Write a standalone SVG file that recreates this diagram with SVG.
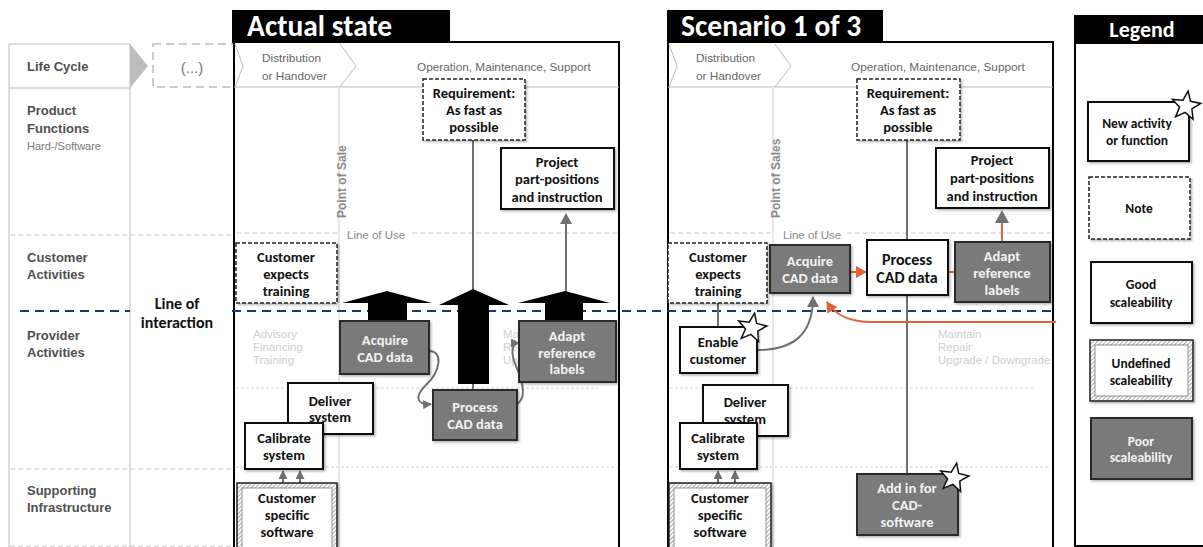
<svg xmlns="http://www.w3.org/2000/svg" width="1203" height="547" viewBox="0 0 1203 547">
  <style>
    .row { font-family: "Liberation Sans", Arial, sans-serif; font-weight: bold; font-size: 13px; fill: #505050; }
    .sub { font-family: "Liberation Sans", Arial, sans-serif; font-size: 11px; fill: #7a7a7a; }
    .phase { font-family: "Liberation Sans", Arial, sans-serif; font-size: 11.8px; fill: #666; }
    .ghost { font-family: "Liberation Sans", Arial, sans-serif; font-size: 11.5px; fill: #cfcfcf; }
    .pos { font-family: "Liberation Sans", Arial, sans-serif; font-weight: bold; font-size: 12px; fill: #8a8a8a; }
    .use { font-family: "Liberation Sans", Arial, sans-serif; font-size: 11.5px; fill: #888; }
    .t { font-family: Carlito, Lato, "Liberation Sans", sans-serif; font-weight: bold; font-size: 14.5px; fill: #111; text-anchor: middle; }
    .tw { font-family: Carlito, Lato, "Liberation Sans", sans-serif; font-weight: bold; font-size: 14.5px; fill: #f2f2f2; text-anchor: middle; }
    .lg { font-size: 13.5px; }
    .big { font-size: 16px; }
    .title { font-family: Carlito, Lato, "Liberation Sans", sans-serif; font-weight: bold; font-size: 29.5px; fill: #fff; }
    .title.small { font-size: 22px; text-anchor: middle; }
    .good { fill: #fff; stroke: #111; stroke-width: 2; filter: url(#sh); }
    .poor { fill: #7a7a7a; stroke: #2a2a2a; stroke-width: 2; filter: url(#sh); }
    .note { fill: #fff; stroke: #222; stroke-width: 1.5; stroke-dasharray: 4 2; filter: url(#sh); }
    .hatch-o { fill: url(#hatch); stroke: #222; stroke-width: 1.5; filter: url(#sh); }
    .hatch-i { fill: #fff; stroke: #777; stroke-width: 0.8; }
    .panel { fill: #fff; stroke: #000; stroke-width: 2; }
    .grid { stroke: #bdbdbd; stroke-width: 1; fill: none; }
    .dash { stroke: #c8c8c8; stroke-width: 1; stroke-dasharray: 5 3; fill: none; }
    .dot { stroke: #d4d4d4; stroke-width: 1; stroke-dasharray: 3 2; fill: none; }
    .loi { stroke: #1f3a5c; stroke-width: 2; stroke-dasharray: 9 6; fill: none; }
    .con { stroke: #707070; stroke-width: 2; fill: none; }
    .org { stroke: #e8603c; stroke-width: 2; fill: none; }
    .star { fill: #fff; stroke: #111; stroke-width: 1.5; stroke-linejoin: miter; }
  </style>
  <defs>
    <filter id="sh" x="-10%" y="-10%" width="130%" height="130%">
      <feDropShadow dx="1.5" dy="1.5" stdDeviation="1" flood-color="#000" flood-opacity="0.3"/>
    </filter>
    <pattern id="hatch" width="3" height="3" patternUnits="userSpaceOnUse" patternTransform="rotate(45)">
      <rect width="3" height="3" fill="#fff"/>
      <line x1="0" y1="0" x2="0" y2="3" stroke="#8a8a8a" stroke-width="1.4"/>
    </pattern>
    <marker id="ag" markerUnits="userSpaceOnUse" markerWidth="12" markerHeight="12" refX="10" refY="6" orient="auto">
      <path d="M0,0 L11,6 L0,12 z" fill="#707070"/>
    </marker>
    <marker id="ag-s" markerUnits="userSpaceOnUse" markerWidth="9" markerHeight="9" refX="8" refY="4.5" orient="auto">
      <path d="M0,0 L9,4.5 L0,9 z" fill="#707070"/>
    </marker>
    <marker id="ao" markerUnits="userSpaceOnUse" markerWidth="12" markerHeight="12" refX="10" refY="6" orient="auto">
      <path d="M0,0 L11,6 L0,12 z" fill="#e8603c"/>
    </marker>
    <polygon id="star" points="0,-15 3.8,-5.3 14.3,-4.6 6.2,2 8.8,12.1 0,6.5 -8.8,12.1 -6.2,2 -14.3,-4.6 -3.8,-5.3"/>
  </defs>

  <rect width="1203" height="547" fill="#fff"/>

  <!-- lane headings on the left -->
  <g id="lanes">
    <line class="grid" x1="9" y1="44" x2="130" y2="44"/>
    <line class="grid" x1="9" y1="88" x2="130" y2="88"/>
    <line class="grid" x1="9" y1="44" x2="9" y2="547"/>
    <line class="grid" x1="130" y1="44" x2="130" y2="547"/>
    <polygon points="130,44 148,66 130,88" fill="#bdbdbd"/>
    <rect x="153" y="44" width="82" height="43" fill="none" stroke="#bdbdbd" stroke-width="1.5" stroke-dasharray="8 5"/>
    <text x="192" y="73" text-anchor="middle" font-family="Liberation Sans, Arial, sans-serif" font-size="15" fill="#777">(...)</text>
    <line class="dash" x1="10" y1="235" x2="234" y2="235" stroke-dasharray="9 3 2 3"/>
    <line class="dash" x1="10" y1="469" x2="234" y2="469" stroke-dasharray="9 3"/>
    <line class="dash" x1="10" y1="546" x2="234" y2="546" stroke-dasharray="9 3"/>
    <text class="row" x="27" y="71">Life Cycle</text>
    <text class="row" x="27" y="115">Product</text>
    <text class="row" x="27" y="133">Functions</text>
    <text class="sub" x="27" y="150">Hard-/Software</text>
    <text class="row" x="27" y="262">Customer</text>
    <text class="row" x="27" y="279">Activities</text>
    <text class="row" x="27" y="340">Provider</text>
    <text class="row" x="27" y="357">Activities</text>
    <text class="row" x="27" y="495">Supporting</text>
    <text class="row" x="27" y="512">Infrastructure</text>
    <text class="t big" x="177" y="309">Line of</text>
    <text class="t big" x="177" y="328">interaction</text>
  </g>

  <!-- panel: actual state -->
  <g id="panel-actual">
    <rect x="232" y="10" width="218" height="33" fill="#000"/>
    <text class="title" x="247" y="36">Actual state</text>
    <rect class="panel" x="234" y="42" width="385" height="510"/>
    <polyline class="grid" points="235,44 243,66 235,87"/>
    <polyline class="grid" points="340,44 356,66 340,87"/>
    <line class="grid" x1="234" y1="87" x2="619" y2="87"/>
    <text class="phase" x="262" y="62">Distribution</text>
    <text class="phase" x="262" y="80">or Handover</text>
    <text class="phase" x="417" y="71">Operation, Maintenance, Support</text>
    <line x1="339" y1="87" x2="339" y2="547" stroke="#e2e2e2" stroke-width="1.5"/>
    <text class="pos" transform="translate(346,218) rotate(-90)">Point of Sale</text>
    <line class="dash" x1="236" y1="233" x2="338" y2="233"/>
    <line class="dash" x1="412" y1="233" x2="617" y2="233"/>
    <text class="use" x="347" y="239">Line of Use</text>
    <line class="dot" x1="236" y1="388" x2="598" y2="388"/>
    <line class="dot" x1="236" y1="467" x2="617" y2="467"/>
    <text class="ghost" x="253" y="338">Advisory</text>
    <text class="ghost" x="253" y="351">Financing</text>
    <text class="ghost" x="253" y="364">Training</text>
    <!-- service list, mostly hidden by the label box -->
    <text class="ghost" x="503" y="338">Ma</text>
    <text class="ghost" x="503" y="351">Re</text>
    <text class="ghost" x="503" y="364">Up</text>
  </g>

  <!-- panel: scenario 1 -->
  <g id="panel-scenario">
    <rect x="667" y="10" width="216" height="33" fill="#000"/>
    <text class="title" x="681" y="36">Scenario 1 of 3</text>
    <rect class="panel" x="668" y="42" width="385" height="510"/>
    <polyline class="grid" points="669,44 677,66 669,87"/>
    <polyline class="grid" points="775,44 791,66 775,87"/>
    <line class="grid" x1="668" y1="87" x2="1053" y2="87"/>
    <text class="phase" x="696" y="62">Distribution</text>
    <text class="phase" x="696" y="80">or Handover</text>
    <text class="phase" x="851" y="71">Operation, Maintenance, Support</text>
    <line x1="773" y1="87" x2="773" y2="547" stroke="#e2e2e2" stroke-width="1.5"/>
    <text class="pos" transform="translate(780,218) rotate(-90)">Point of Sales</text>
    <line class="dash" x1="670" y1="233" x2="773" y2="233"/>
    <line class="dash" x1="847" y1="233" x2="1051" y2="233"/>
    <text class="use" x="783" y="239">Line of Use</text>
    <line class="dot" x1="670" y1="388" x2="1033" y2="388"/>
    <line class="dot" x1="670" y1="467" x2="1051" y2="467"/>
    <text class="ghost" x="938" y="338">Maintain</text>
    <text class="ghost" x="938" y="351">Repair</text>
    <text class="ghost" x="938" y="364">Upgrade / Downgrade</text>
  </g>

  <!-- legend -->
  <g id="legend">
    <rect x="1074" y="15" width="135" height="29" fill="#000"/>
    <text class="title small" x="1142" y="37">Legend</text>
    <rect x="1075" y="43" width="140" height="503" fill="#fff" stroke="#000" stroke-width="2"/>
    <g id="legend-new">
      <rect class="good" x="1088" y="102" width="101" height="59"/>
      <text class="t lg" x="1137" y="128">New activity</text>
      <text class="t lg" x="1137" y="145">or function</text>
      <use href="#star" class="star" transform="translate(1186,106) rotate(8)"/>
    </g>
    <g id="legend-note">
      <rect class="note" x="1089" y="177" width="101" height="62"/>
      <text class="t lg" x="1139" y="213">Note</text>
    </g>
    <g id="legend-good">
      <rect class="good" x="1091" y="262" width="101" height="61"/>
      <text class="t lg" x="1141" y="289">Good</text>
      <text class="t lg" x="1141" y="307">scaleability</text>
    </g>
    <g id="legend-undefined">
      <rect class="hatch-o" x="1090" y="340" width="103" height="61"/>
      <rect class="hatch-i" x="1095" y="345" width="93" height="51"/>
      <text class="t lg" x="1141" y="368">Undefined</text>
      <text class="t lg" x="1141" y="385">scaleability</text>
    </g>
    <g id="legend-poor">
      <rect class="poor" x="1091" y="418" width="101" height="61"/>
      <text class="tw lg" x="1141" y="446">Poor</text>
      <text class="tw lg" x="1141" y="462">scaleability</text>
    </g>
  </g>

  <!-- connectors -->
  <g id="connectors">
    <!-- line of interaction -->
    <line class="loi" x1="20" y1="311" x2="130" y2="311"/>
    <line class="loi" x1="232" y1="311" x2="1056" y2="311"/>

    <!-- actual state -->
    <line class="con" x1="473" y1="140" x2="473" y2="292"/>
    <line class="con" x1="473" y1="383" x2="473" y2="390"/>
    <line class="con" x1="566" y1="292" x2="566" y2="214" marker-end="url(#ag)"/>
    <polygon points="387,291 432,303 407,303 407,321 368,321 368,303 342,303" fill="#000"/>
    <polygon points="473,289 509,305 489,305 489,384 458,384 458,305 439,305" fill="#000"/>
    <polygon points="565,291 610,303 583,303 583,321 545,321 545,303 518,303" fill="#000"/>
    <path class="con" d="M429,351 C444,351 440,372 426,385 C413,398 418,405 431,404" marker-end="url(#ag-s)"/>
    <path class="con" d="M517,404 C527,398 523,382 516,366 C510,352 512,343 519,343" marker-end="url(#ag-s)"/>
    <line class="con" x1="283" y1="483" x2="283" y2="471" marker-end="url(#ag-s)"/>
    <line class="con" x1="300" y1="483" x2="300" y2="471" marker-end="url(#ag-s)"/>

    <!-- scenario -->
    <line class="con" x1="907" y1="140" x2="907" y2="474"/>
    <line class="org" x1="1002" y1="242" x2="1002" y2="222"/>
    <polygon points="1002,210 1009,223 995,223" fill="#707070"/>
    <line class="org" x1="850" y1="272" x2="866" y2="272" marker-end="url(#ao)"/>
    <line class="org" x1="948" y1="272" x2="955" y2="272"/>
    <path class="org" d="M1056,322 L872,322 C850,322 836,316 827,302" marker-end="url(#ao)"/>
    <line class="con" x1="718" y1="303" x2="718" y2="327"/>
    <path class="con" d="M757,350 C792,350 813,336 813,297" marker-end="url(#ag)"/>
    <line class="con" x1="718" y1="483" x2="718" y2="471" marker-end="url(#ag-s)"/>
    <line class="con" x1="735" y1="483" x2="735" y2="471" marker-end="url(#ag-s)"/>
  </g>

  <!-- nodes: actual state -->
  <g id="a-requirement">
    <rect class="note" x="423" y="79" width="102" height="61"/>
    <text class="t" x="474" y="98">Requirement:</text>
    <text class="t" x="474" y="115">As fast as</text>
    <text class="t" x="474" y="132">possible</text>
  </g>
  <g id="a-project">
    <rect class="good" x="501" y="148" width="113" height="61"/>
    <text class="t" x="557" y="167">Project</text>
    <text class="t" x="557" y="184">part-positions</text>
    <text class="t" x="557" y="202">and instruction</text>
  </g>
  <g id="a-expects">
    <rect class="note" x="236" y="243" width="101" height="60"/>
    <text class="t" x="286" y="262">Customer</text>
    <text class="t" x="286" y="279">expects</text>
    <text class="t" x="286" y="296">training</text>
  </g>
  <g id="a-acquire">
    <rect class="poor" x="340" y="321" width="89" height="53"/>
    <text class="tw" x="385" y="345">Acquire</text>
    <text class="tw" x="385" y="362">CAD data</text>
  </g>
  <g id="a-process">
    <rect class="poor" x="433" y="390" width="84" height="50"/>
    <text class="tw" x="475" y="412">Process</text>
    <text class="tw" x="475" y="429">CAD data</text>
  </g>
  <g id="a-adapt">
    <rect class="poor" x="519" y="321" width="97" height="61"/>
    <text class="tw" x="567" y="341">Adapt</text>
    <text class="tw" x="567" y="358">reference</text>
    <text class="tw" x="567" y="374">labels</text>
  </g>
  <g id="a-deliver">
    <rect class="good" x="288" y="383" width="85" height="51"/>
    <text class="t" x="330" y="406">Deliver</text>
    <text class="t" x="330" y="422">system</text>
  </g>
  <g id="a-calibrate">
    <rect class="good" x="245" y="423" width="78" height="46"/>
    <text class="t" x="284" y="443">Calibrate</text>
    <text class="t" x="284" y="460">system</text>
  </g>
  <g id="a-software">
    <rect class="hatch-o" x="237" y="483" width="100" height="66"/>
    <rect class="hatch-i" x="242" y="488" width="90" height="60"/>
    <text class="t" x="287" y="503">Customer</text>
    <text class="t" x="287" y="520">specific</text>
    <text class="t" x="287" y="537">software</text>
  </g>

  <!-- nodes: scenario 1 -->
  <g id="s-requirement">
    <rect class="note" x="857" y="79" width="103" height="61"/>
    <text class="t" x="908" y="98">Requirement:</text>
    <text class="t" x="908" y="115">As fast as</text>
    <text class="t" x="908" y="132">possible</text>
  </g>
  <g id="s-project">
    <rect class="good" x="936" y="148" width="113" height="60"/>
    <text class="t" x="992" y="165">Project</text>
    <text class="t" x="992" y="183">part-positions</text>
    <text class="t" x="992" y="201">and instruction</text>
  </g>
  <g id="s-expects">
    <rect class="note" x="668" y="243" width="99" height="60"/>
    <text class="t" x="718" y="262">Customer</text>
    <text class="t" x="718" y="279">expects</text>
    <text class="t" x="718" y="296">training</text>
  </g>
  <g id="s-acquire">
    <rect class="poor" x="770" y="245" width="80" height="48"/>
    <text class="tw" x="810" y="266">Acquire</text>
    <text class="tw" x="810" y="283">CAD data</text>
  </g>
  <g id="s-process">
    <rect class="good" x="867" y="240" width="81" height="55"/>
    <text class="t big" x="907" y="265">Process</text>
    <text class="t big" x="907" y="283">CAD data</text>
  </g>
  <g id="s-adapt">
    <rect class="poor" x="955" y="242" width="95" height="60"/>
    <text class="tw" x="1002" y="261">Adapt</text>
    <text class="tw" x="1002" y="278">reference</text>
    <text class="tw" x="1002" y="295">labels</text>
  </g>
  <g id="s-enable">
    <rect class="good" x="680" y="327" width="77" height="46"/>
    <text class="t" x="718" y="347">Enable</text>
    <text class="t" x="718" y="364">customer</text>
    <use href="#star" class="star" transform="translate(752,328) rotate(10)"/>
  </g>
  <g id="s-deliver">
    <rect class="good" x="703" y="385" width="85" height="51"/>
    <text class="t" x="745" y="407">Deliver</text>
    <text class="t" x="745" y="424">system</text>
  </g>
  <g id="s-calibrate">
    <rect class="good" x="680" y="423" width="77" height="46"/>
    <text class="t" x="718" y="443">Calibrate</text>
    <text class="t" x="718" y="460">system</text>
  </g>
  <g id="s-software">
    <rect class="hatch-o" x="669" y="483" width="102" height="66"/>
    <rect class="hatch-i" x="674" y="488" width="92" height="60"/>
    <text class="t" x="720" y="503">Customer</text>
    <text class="t" x="720" y="520">specific</text>
    <text class="t" x="720" y="537">software</text>
  </g>
  <g id="s-addin">
    <rect class="poor" x="857" y="474" width="101" height="61"/>
    <text class="tw" x="907" y="493">Add in for</text>
    <text class="tw" x="907" y="510">CAD-</text>
    <text class="tw" x="907" y="527">software</text>
    <use href="#star" class="star" transform="translate(954,478) rotate(10)"/>
  </g>
</svg>
